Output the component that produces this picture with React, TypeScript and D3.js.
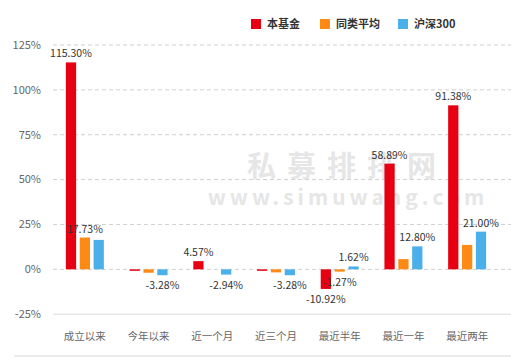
import { scaleBand, scaleLinear } from 'd3';

const categories = ['成立以来', '今年以来', '近一个月', '近三个月', '最近半年', '最近一年', '最近两年'];
const seriesNames = ['本基金', '同类平均', '沪深300'];
const fundValues = [115.3, -0.6, 4.57, -0.6, -10.92, 58.89, 91.38];
const peerValues = [17.73, -1.9, 0, -1.7, -1.27, 5.7, 13.6];
const hs300Values = [16.4, -3.28, -2.94, -3.28, 1.62, 12.8, 21.0];
// only some labels are visible in the original (others hidden by overlap)
const fundLabels = [true, false, true, false, true, true, true];
const peerLabels = [true, false, false, false, true, false, false];
const hs300Labels = [false, true, true, true, true, true, true];
const yTicks = [-25, 0, 25, 50, 75, 100, 125];

const colors = ['#e60012', '#fd8a15', '#4bb0ea'];
const W = 511;
const H = 363;

export default function App() {
  const x = scaleBand<string>().domain(categories).range([53, 499]);
  const inner = scaleBand<number>().domain([0, 1, 2]).range([-19, 19]).paddingInner(0.26);
  const y = scaleLinear().domain([-25, 125]).range([314.2, 45]);

  const series = [
    { values: fundValues, labels: fundLabels },
    { values: peerValues, labels: peerLabels },
    { values: hs300Values, labels: hs300Labels },
  ];

  const font = '"Noto Sans CJK SC", "Noto Sans", sans-serif';

  return (
    <svg width={W} height={H} style={{ position: 'absolute', left: 0, top: 0, background: '#fff' }} fontFamily={font}>
      {/* watermark */}
      <text x={347} y={177} textAnchor="middle" fontSize={29} fontWeight="bold" fill="#e6e6e6" letterSpacing={11}>
        私募排排网
      </text>
      <text x={348} y={205} textAnchor="middle" fontSize={21} fontWeight="bold" fill="#e6e6e6" letterSpacing={4}>
        www.simuwang.com
      </text>

      {/* grid */}
      {yTicks.map((t) => (
        <g key={t}>
          <line
            x1={53}
            x2={W}
            y1={y(t)}
            y2={y(t)}
            stroke={t === -25 ? '#dcdcdc' : '#cfcfcf'}
            strokeDasharray={t === -25 ? undefined : '4,3'}
          />
          <text x={41} y={y(t)} dy="0.35em" textAnchor="end" fontSize={11} fill="#666">
            {t}%
          </text>
        </g>
      ))}
      <line x1={14} x2={W} y1={356} y2={356} stroke="#d6d6d6" />

      {/* bars */}
      {series.map((s, si) =>
        s.values.map((v, i) => {
          if (v === 0) return null;
          const bx = (x(categories[i]) ?? 0) + x.bandwidth() / 2 + (inner(si) ?? 0);
          const top = Math.min(y(v), y(0));
          const h = Math.max(Math.abs(y(v) - y(0)), 1.5);
          return (
            <rect key={`${si}-${i}`} x={bx} y={v < 0 ? y(0) : top} width={inner.bandwidth()} height={h} fill={colors[si]} />
          );
        })
      )}

      {/* value labels */}
      {series.map((s, si) =>
        s.values.map((v, i) => {
          if (!s.labels[i]) return null;
          const cx = (x(categories[i]) ?? 0) + x.bandwidth() / 2 + (inner(si) ?? 0) + inner.bandwidth() / 2;
          const ly = v >= 0 ? y(v) - 5 : y(v) + 14;
          return (
            <text key={`l${si}-${i}`} x={cx} y={ly} textAnchor="middle" fontSize={10.5} fill="#333">
              {v.toFixed(2)}%
            </text>
          );
        })
      )}

      {/* category labels */}
      {categories.map((c) => (
        <text key={c} x={(x(c) ?? 0) + x.bandwidth() / 2} y={336} dy="0.35em" textAnchor="middle" fontSize={10.5} fill="#666">
          {c}
        </text>
      ))}

      {/* legend */}
      {seriesNames.map((n, i) => {
        const lx = [251, 320, 398][i];
        return (
          <g key={n}>
            <rect x={lx} y={19} width={10} height={10} fill={colors[i]} />
            <text x={lx + 16} y={24} dy="0.35em" fontSize={11} fontWeight="bold" fill="#333">
              {n}
            </text>
          </g>
        );
      })}
    </svg>
  );
}
